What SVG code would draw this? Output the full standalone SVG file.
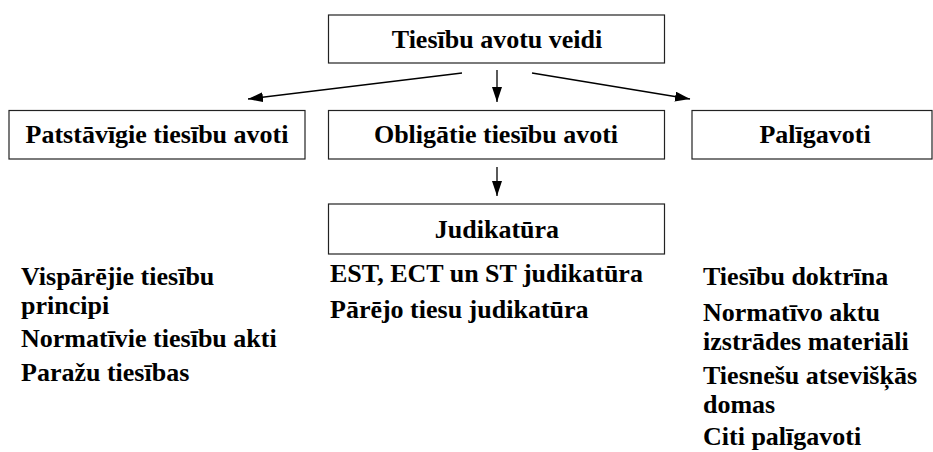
<svg xmlns="http://www.w3.org/2000/svg" width="933" height="452" viewBox="0 0 933 452">
  <defs>
    <marker id="arrow" viewBox="0 0 15 10" refX="15" refY="5" markerWidth="15" markerHeight="10" markerUnits="userSpaceOnUse" orient="auto">
      <path d="M0,0 L15,5 L0,10 z" fill="#000"/>
    </marker>
    <style>
      .box { fill: #fff; stroke: #222; stroke-width: 1.2; }
      .t { font-family: "Liberation Serif", "Times New Roman", serif; font-weight: bold; font-size: 26px; fill: #000; }
      .c { text-anchor: middle; }
      .edge { stroke: #000; stroke-width: 1.3; fill: none; marker-end: url(#arrow); }
    </style>
  </defs>
  <rect width="933" height="452" fill="#fff"/>

  <!-- arrows from the root box to the three kinds of sources, then down to case law -->
  <g id="connectors">
    <line class="edge" x1="462" y1="73" x2="248" y2="99"/>
    <line class="edge" x1="497" y1="70" x2="497" y2="102"/>
    <line class="edge" x1="532" y1="73" x2="690" y2="99"/>
    <line class="edge" x1="497" y1="167" x2="497" y2="196"/>
  </g>

  <g id="node-root">
    <rect class="box" x="328.5" y="15" width="336" height="48"/>
    <text class="t c" x="497" y="48">Tiesību avotu veidi</text>
  </g>

  <g id="node-patstavigie">
    <rect class="box" x="9" y="110.5" width="296" height="48.5"/>
    <text class="t c" x="157" y="143">Patstāvīgie tiesību avoti</text>
  </g>

  <g id="node-obligatie">
    <rect class="box" x="328.5" y="110.5" width="336" height="48.5"/>
    <text class="t c" x="496" y="143">Obligātie tiesību avoti</text>
  </g>

  <g id="node-paligavoti">
    <rect class="box" x="692" y="110.5" width="240" height="48.5"/>
    <text class="t c" x="815" y="143">Palīgavoti</text>
  </g>

  <g id="node-judikatura">
    <rect class="box" x="328.5" y="204" width="336" height="50"/>
    <text class="t c" x="497" y="238">Judikatūra</text>
  </g>

  <!-- unboxed lists under each column; wrapped items are single text elements -->
  <g id="list-patstavigie">
    <text class="t" x="21" y="285">Vispārējie tiesību<tspan x="21" dy="29">principi</tspan></text>
    <text class="t" x="21" y="347">Normatīvie tiesību akti</text>
    <text class="t" x="21" y="381">Paražu tiesības</text>
  </g>

  <g id="list-obligatie">
    <text class="t" x="330" y="282">EST, ECT un ST judikatūra</text>
    <text class="t" x="330" y="318">Pārējo tiesu judikatūra</text>
  </g>

  <g id="list-paligavoti">
    <text class="t" x="703" y="285">Tiesību doktrīna</text>
    <text class="t" x="703" y="321">Normatīvo aktu<tspan x="703" dy="29">izstrādes materiāli</tspan></text>
    <text class="t" x="703" y="384">Tiesnešu atsevišķās<tspan x="703" dy="29">domas</tspan></text>
    <text class="t" x="703" y="445">Citi palīgavoti</text>
  </g>
</svg>
